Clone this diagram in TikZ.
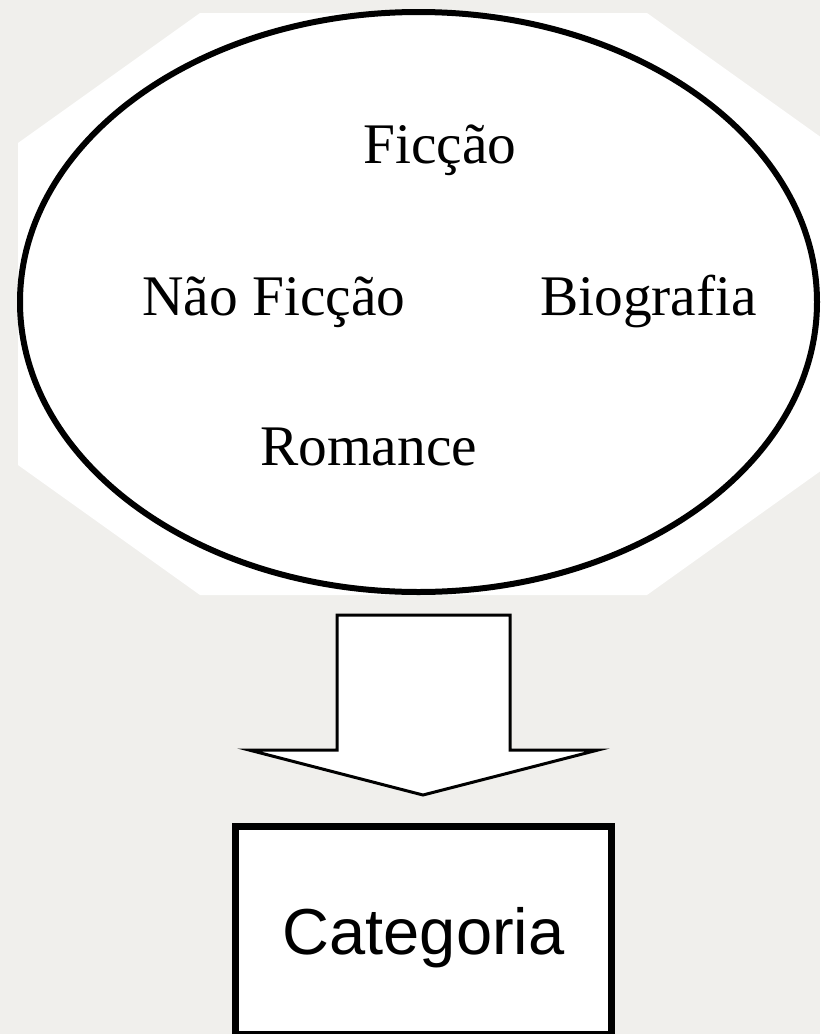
\documentclass[tikz,border=0pt]{standalone}
\usepackage{fontspec}
\setmainfont{Liberation Serif}
\newfontfamily\arialfont{Liberation Sans}
\usetikzlibrary{shapes.geometric}
\definecolor{bggray}{RGB}{240,239,236}
\tikzset{
  lbl/.style={anchor=base west, inner sep=0pt, font=\fontsize{57.4}{60}\selectfont},
  catbox/.style={draw=black, line width=7pt, fill=white, minimum width=376pt, minimum height=208pt, inner sep=0pt,
     font=\arialfont\fontsize{65}{70}\selectfont, text height=47pt, text depth=0pt},
  bigell/.style={ellipse, draw=black, line width=6pt, fill=white, minimum width=797pt, minimum height=580pt, inner sep=0pt},
  blockarrow/.style={draw=black, line width=3pt, fill=white, line join=miter}
}
\begin{document}
\begin{tikzpicture}[x=1pt,y=-1pt]
\fill[bggray] (0,0) rectangle (820,1034);
\useasboundingbox (0,0) rectangle (820,1034);
% white octagon backdrop
\fill[white] (200,13) -- (647,13) -- (829,143) -- (829,465) -- (647,595) -- (200,595) -- (18,465) -- (18,143) -- cycle;
% ellipse
\node[bigell] (ell) at (418.5,302) {};
% labels
\node[lbl] (ficcao) at (363,163) {Ficção};
\node[lbl] (naoficcao) at (142,315) {Não Ficção};
\node[lbl] (biografia) at (540,315) {Biografia};
\node[lbl] (romance) at (260,465) {Romance};
% block arrow
\draw[blockarrow] (337,615) -- (510,615) -- (510,750) -- (598,750) -- (423,795) -- (249,750) -- (337,750) -- cycle;
% category box
\node[catbox] (cat) at (423.5,930.5) {Categoria};
\end{tikzpicture}
\end{document}
